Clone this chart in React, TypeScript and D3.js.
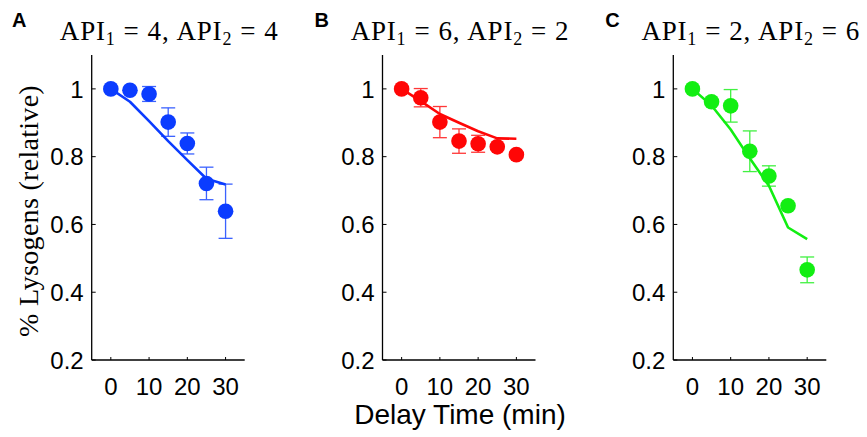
import * as d3 from 'd3';

const delays = [0, 5, 10, 15, 20, 25, 30];
const xTicks = [0, 10, 20, 30];
const yTicks = [0.2, 0.4, 0.6, 0.8, 1];
const yTickLabels = ['0.2', '0.4', '0.6', '0.8', '1'];

const panelLetters = ['A', 'B', 'C'];
const api1 = [4, 6, 2];
const api2 = [4, 2, 6];
const colors = ['#0b3cff', '#ff0606', '#12ee12'];

const measuredA = [1.0, 0.996, 0.985, 0.902, 0.839, 0.721, 0.639];
const errorA = [0, 0, 0.022, 0.042, 0.031, 0.048, 0.08];
const modelA = [1.0, 0.962, 0.905, 0.846, 0.79, 0.735, 0.718];

const measuredB = [1.0, 0.974, 0.902, 0.846, 0.838, 0.829, 0.806];
const errorB = [0, 0.027, 0.046, 0.036, 0.025, 0.004, 0.004];
const modelB = [1.0, 0.964, 0.926, 0.9, 0.875, 0.854, 0.853];

const measuredC = [1.0, 0.962, 0.95, 0.816, 0.743, 0.655, 0.466];
const errorC = [0, 0, 0.048, 0.06, 0.03, 0, 0.038];
const modelC = [1.0, 0.951, 0.88, 0.795, 0.714, 0.591, 0.557];

const measured = [measuredA, measuredB, measuredC];
const errors = [errorA, errorB, errorC];
const models = [modelA, modelB, modelC];

const W = 867;
const H = 437;
const plotLeft = 91.7;
const panelStep = 290.8;
const plotWidth = 153;
const plotTop = 55;
const plotBottom = 360;

const sans = '"Liberation Sans", Arial, Helvetica, sans-serif';
const serif = '"Liberation Serif", "Times New Roman", serif';

function Panel({ index }: { index: number }) {
  const left = plotLeft + index * panelStep;
  const x = d3.scaleLinear().domain([-5, 35]).range([left, left + plotWidth]);
  const y = d3.scaleLinear().domain([0.2, 1.1]).range([plotBottom, plotTop]);
  const color = colors[index];
  const vals = measured[index];
  const errs = errors[index];

  const line = d3
    .line<number>()
    .x((_, i) => x(delays[i]))
    .y((d) => y(d));

  const cx = left + plotWidth / 2 + 1;

  return (
    <g>
      <text x={index === 0 ? 12 : left - 68} y={27} fontFamily={sans} fontWeight="bold" fontSize={20} fill="#000">
        {panelLetters[index]}
      </text>
      <text x={cx} y={40} textAnchor="middle" fontFamily={serif} fontSize={27} fill="#000" letterSpacing={0.8}>
        API<tspan fontSize={18} dy={5}>1</tspan>
        <tspan dy={-5} dx={8}>=</tspan>
        <tspan dx={8}>{`${api1[index]},`}</tspan>
        <tspan dx={7}>API</tspan>
        <tspan fontSize={18} dy={5}>2</tspan>
        <tspan dy={-5} dx={8}>=</tspan>
        <tspan dx={8}>{`${api2[index]}`}</tspan>
      </text>

      {/* axes */}
      <line x1={left} x2={left} y1={plotTop} y2={plotBottom} stroke="#000" strokeWidth={1.3} />
      <line x1={left} x2={left + plotWidth} y1={plotBottom} y2={plotBottom} stroke="#000" strokeWidth={1.3} />
      {yTicks.map((t, i) => (
        <g key={'y' + t}>
          <line x1={left} x2={left + 4} y1={y(t)} y2={y(t)} stroke="#000" strokeWidth={1} />
          <text x={left - 8} y={y(t)} dy="0.36em" textAnchor="end" fontFamily={sans} fontSize={24} fill="#000">
            {yTickLabels[i]}
          </text>
        </g>
      ))}
      {xTicks.map((t) => (
        <g key={'x' + t}>
          <line x1={x(t)} x2={x(t)} y1={plotBottom} y2={plotBottom - 3} stroke="#000" strokeWidth={1} />
          <text x={x(t)} y={395} textAnchor="middle" fontFamily={sans} fontSize={24} fill="#000">
            {t}
          </text>
        </g>
      ))}

      {/* model curve */}
      <path d={line(models[index]) || ''} fill="none" stroke={color} strokeWidth={2.6} strokeLinejoin="round" />

      {/* error bars */}
      {vals.map((v, i) =>
        errs[i] > 0 ? (
          <g key={'e' + i} stroke={color} strokeWidth={1.3} opacity={0.8}>
            <line x1={x(delays[i])} x2={x(delays[i])} y1={y(v - errs[i])} y2={y(v + errs[i])} />
            <line x1={x(delays[i]) - 7} x2={x(delays[i]) + 7} y1={y(v - errs[i])} y2={y(v - errs[i])} />
            <line x1={x(delays[i]) - 7} x2={x(delays[i]) + 7} y1={y(v + errs[i])} y2={y(v + errs[i])} />
          </g>
        ) : null
      )}

      {/* data points */}
      {vals.map((v, i) => (
        <circle key={'p' + i} cx={x(delays[i])} cy={y(v)} r={7.8} fill={color} />
      ))}
    </g>
  );
}

export default function App() {
  return (
    <svg width={W} height={H} style={{ position: 'absolute', left: 0, top: 0, background: '#fff' }}>
      <rect width={W} height={H} fill="#fff" />
      {[0, 1, 2].map((i) => (
        <Panel key={i} index={i} />
      ))}
      <text
        transform={`translate(28, 211) rotate(-90)`}
        textAnchor="middle"
        dy="0.35em"
        fontFamily={serif}
        fontSize={28}
        fill="#000"
        letterSpacing={0.3}
      >
        % Lysogens (relative)
      </text>
      <text x={460} y={424} textAnchor="middle" fontFamily={sans} fontSize={28} fill="#000">
        Delay Time (min)
      </text>
    </svg>
  );
}
